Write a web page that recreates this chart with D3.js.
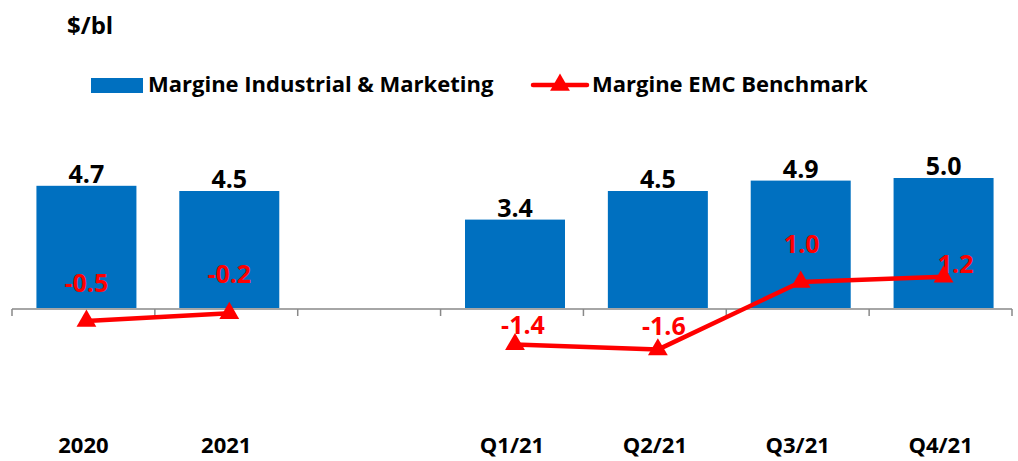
<!DOCTYPE html>
<html>
<head>
<meta charset="utf-8">
<script src="https://cdn.jsdelivr.net/npm/d3@7"></script>
<style>
  html, body { margin: 0; padding: 0; background: #fff; }
  svg { display: block; font-family: "Open Sans", Lato, sans-serif; font-weight: bold; }
</style>
</head>
<body>
<svg id="chart" width="1018" height="461"></svg>
<script>
// ---- data ----
const categories = ["2020", "2021", "", "Q1/21", "Q2/21", "Q3/21", "Q4/21"];
const industrialMargin = [4.7, 4.5, null, 3.4, 4.5, 4.9, 5.0];
const emcBenchmark = [-0.5, -0.2, null, -1.4, -1.6, 1.0, 1.2];
const seriesNames = ["Margine Industrial & Marketing", "Margine EMC Benchmark"];
const unitLabel = "$/bl";

// ---- layout (label nudges, as placed in the original) ----
const emcLabelDx = [0, 0, 0, 8, 6, 1, 12];
const emcLabelDy = [-29, -30, 0, -10, -15, -29, -4];

const BLUE = "#0070C0", RED = "#FF0000", AXIS = "#898989";

const svg = d3.select("#chart");

const x = d3.scaleBand().domain(categories).range([15, 1015])
  .paddingInner(0.3).paddingOuter(0.15);
const y = d3.scaleLinear().domain([-3, 6]).range([386, 152]);

const step = x.step();
const pad = step * x.paddingInner() / 2;

const rows = categories.map((c, i) => ({ c, bar: industrialMargin[i], emc: emcBenchmark[i], i }));

// bars
svg.append("g").selectAll("rect")
  .data(rows.filter(d => d.bar != null))
  .join("rect")
  .attr("x", d => x(d.c))
  .attr("width", x.bandwidth())
  .attr("y", d => y(d.bar))
  .attr("height", d => y(0) - y(d.bar))
  .attr("fill", BLUE);

// bar value labels
svg.append("g").selectAll("text")
  .data(rows.filter(d => d.bar != null))
  .join("text")
  .attr("x", d => x(d.c) + x.bandwidth() / 2)
  .attr("y", d => y(d.bar) - 3)
  .attr("text-anchor", "middle")
  .attr("font-size", 25)
  .attr("fill", "#000")
  .text(d => d3.format(".1f")(d.bar));

// axis line with ticks at band boundaries
const axisG = svg.append("g");
axisG.append("line")
  .attr("x1", x.range()[0] - 3).attr("x2", x.range()[1] - 3)
  .attr("y1", y(0) + 1).attr("y2", y(0) + 1)
  .attr("stroke", AXIS).attr("stroke-width", 1.5);
const bounds = categories.map(c => x(c) - pad).concat([x.range()[1]]).map(v => v - 3);
axisG.selectAll("line.tick")
  .data(bounds)
  .join("line")
  .attr("class", "tick")
  .attr("x1", d => d).attr("x2", d => d)
  .attr("y1", y(0) + 1).attr("y2", y(0) + 8)
  .attr("stroke", AXIS).attr("stroke-width", 1.5);

// category labels
svg.append("g").selectAll("text")
  .data(categories)
  .join("text")
  .attr("x", d => x(d) + x.bandwidth() / 2 - 3)
  .attr("y", 453)
  .attr("text-anchor", "middle")
  .attr("font-size", 22)
  .attr("fill", "#000")
  .text(d => d);

// EMC line
const line = d3.line()
  .defined(d => d.emc != null)
  .x(d => x(d.c) + x.bandwidth() / 2)
  .y(d => y(d.emc));

svg.append("path")
  .datum(rows)
  .attr("d", line)
  .attr("fill", "none")
  .attr("stroke", RED)
  .attr("stroke-width", 4.5)
  .attr("stroke-linejoin", "round");

const tri = d3.symbol().type(d3.symbolTriangle).size(170);
svg.append("g").selectAll("path")
  .data(rows.filter(d => d.emc != null))
  .join("path")
  .attr("d", tri)
  .attr("transform", d => `translate(${x(d.c) + x.bandwidth() / 2},${y(d.emc)})`)
  .attr("fill", RED);

svg.append("g").selectAll("text")
  .data(rows.filter(d => d.emc != null))
  .join("text")
  .attr("x", d => x(d.c) + x.bandwidth() / 2 + emcLabelDx[d.i])
  .attr("y", d => y(d.emc) + emcLabelDy[d.i])
  .attr("text-anchor", "middle")
  .attr("font-size", 25)
  .attr("fill", RED)
  .text(d => d3.format(".1f")(d.emc).replace("−", "-"));

// unit title
svg.append("text")
  .attr("x", 67).attr("y", 34)
  .attr("font-size", 24)
  .attr("fill", "#000")
  .text(unitLabel);

// legend
const lg = svg.append("g");
lg.append("rect").attr("x", 91).attr("y", 78).attr("width", 52).attr("height", 15).attr("fill", BLUE);
lg.append("text").attr("x", 148).attr("y", 92).attr("font-size", 22).attr("fill", "#000").text(seriesNames[0]);
lg.append("line").attr("x1", 533).attr("x2", 587).attr("y1", 85).attr("y2", 85)
  .attr("stroke", RED).attr("stroke-width", 4.5).attr("stroke-linecap", "round");
lg.append("path").attr("d", tri).attr("transform", "translate(560,85)").attr("fill", RED);
lg.append("text").attr("x", 592).attr("y", 92).attr("font-size", 22).attr("fill", "#000").text(seriesNames[1]);
</script>
</body>
</html>
